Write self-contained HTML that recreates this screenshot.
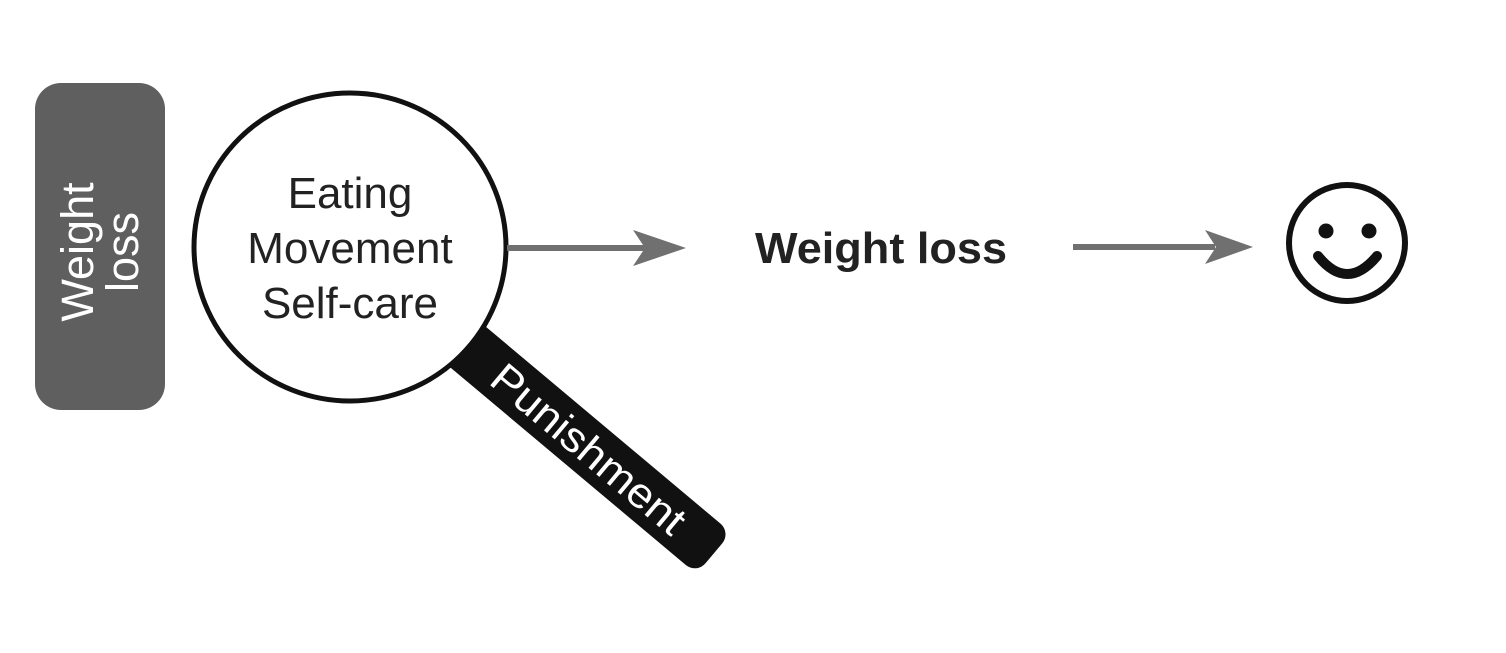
<!DOCTYPE html>
<html><head><style>
html,body{margin:0;padding:0;background:#fff;}
body{width:1506px;height:648px;overflow:hidden;}
</style></head><body>
<svg width="1506" height="648" viewBox="0 0 1506 648" xmlns="http://www.w3.org/2000/svg" font-family="Liberation Sans, sans-serif">
<rect x="35" y="83" width="130" height="327" rx="26" fill="#5f5f5f"/>
<g transform="translate(100,252) rotate(-90)" fill="#fff" font-size="45" text-anchor="middle">
<text x="0" y="-7">Weight</text>
<text x="0" y="38">loss</text>
</g>
<g transform="translate(350,248) rotate(40)">
<rect x="120" y="-27" width="355" height="54" rx="14" fill="#111"/>
<text x="312" y="15" fill="#fff" font-size="42" text-anchor="middle" textLength="240" lengthAdjust="spacingAndGlyphs">Punishment</text>
</g>
<ellipse cx="350" cy="247" rx="156" ry="154" fill="#fff" stroke="#111" stroke-width="5"/>
<g font-size="44" fill="#222" text-anchor="middle">
<text x="350" y="208">Eating</text>
<text x="350" y="263">Movement</text>
<text x="350" y="318">Self-care</text>
</g>
<line x1="507" y1="248" x2="650" y2="248" stroke="#707070" stroke-width="6"/>
<path d="M633 230 L686 248 L633 266 L645 248 Z" fill="#707070"/>
<text x="881" y="263" font-size="44" font-weight="bold" fill="#222" text-anchor="middle" textLength="252" lengthAdjust="spacingAndGlyphs">Weight loss</text>
<line x1="1073" y1="247" x2="1215" y2="247" stroke="#707070" stroke-width="6"/>
<path d="M1205 230 L1253 247 L1205 264 L1216 247 Z" fill="#707070"/>
<circle cx="1347" cy="243" r="58" fill="none" stroke="#111" stroke-width="6"/>
<circle cx="1326" cy="231" r="7.5" fill="#111"/>
<circle cx="1369" cy="231" r="7.5" fill="#111"/>
<path d="M1318 256 Q1347 292 1377 256" fill="none" stroke="#111" stroke-width="10" stroke-linecap="round"/>
</svg>
</body></html>
